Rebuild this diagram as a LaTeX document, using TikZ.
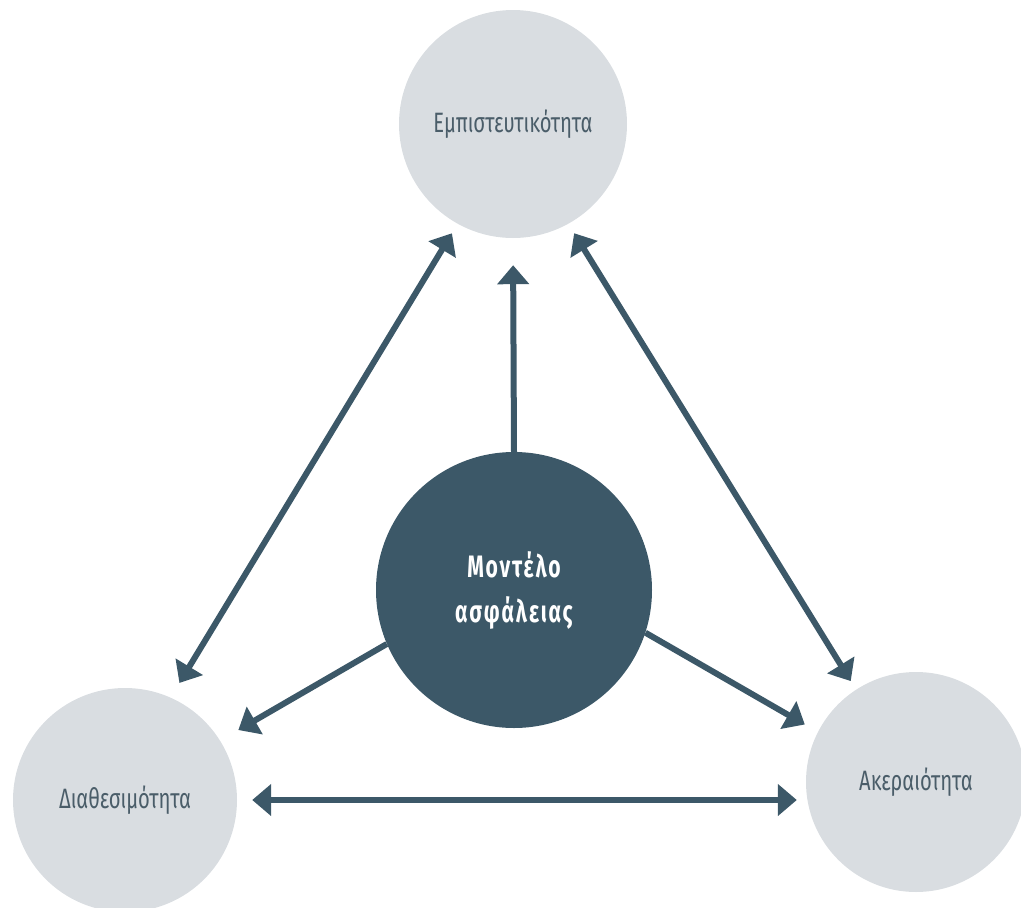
\documentclass[tikz,border=0pt]{standalone}
\usepackage{fontspec}
\setmainfont{Fira Sans}[FakeStretch=0.72]
\newfontfamily\corefont{Fira Sans}[FakeStretch=0.68,LetterSpace=6]
\usetikzlibrary{arrows.meta}
\definecolor{myslate}{HTML}{3C5868}
\definecolor{mymist}{HTML}{D9DDE1}
\definecolor{mylabel}{HTML}{4A5D69}
\tikzset{>={Triangle[length=19pt,width=31pt]}}
\tikzset{
  pillar/.style={circle, fill=mymist, inner sep=0pt, text=mylabel,
    font=\fontsize{28}{32}\selectfont},
  core/.style={circle, fill=myslate, inner sep=0pt, text=white, align=center,
    font=\corefont\bfseries\fontsize{31}{45}\selectfont},
  link/.style={line width=6pt, myslate}
}

\begin{document}
\begin{tikzpicture}[x=1pt,y=-1pt]
    \useasboundingbox (0,0) rectangle (1021,908);
    \clip (0,0) rectangle (1021,908);

    % the three properties
    \node[pillar, minimum size=228pt] (conf) at (513,124) {Εμπιστευτικότητα};
    \node[pillar, minimum size=224pt] (avail) at (125,800) {Διαθεσιμότητα};
    \node[pillar, minimum size=220pt] (integ) at (916,782) {Ακεραιότητα};

    % the model in the middle
    \node[core, minimum size=276pt] (model) at (514,590) {Μοντέλο\\ασφάλειας};

    \draw[link, ->, shorten >=27pt] (model.north) -- (conf.south);
    \draw[link, ->, shorten >=21pt] (model.203) -- (avail.32);
    \draw[link, ->, shorten >=15pt] (model.342) -- (integ.153);

    \draw[link, <->, shorten <=17pt, shorten >=11pt] (avail.66) -- (conf.241);
    \draw[link, <->, shorten <=10pt, shorten >=11pt] (integ.123) -- (conf.299);
    \draw[link, <->, shorten <=15pt, shorten >=9pt] (avail.east) -- (avail.east -| integ.west);

\end{tikzpicture}
\end{document}
